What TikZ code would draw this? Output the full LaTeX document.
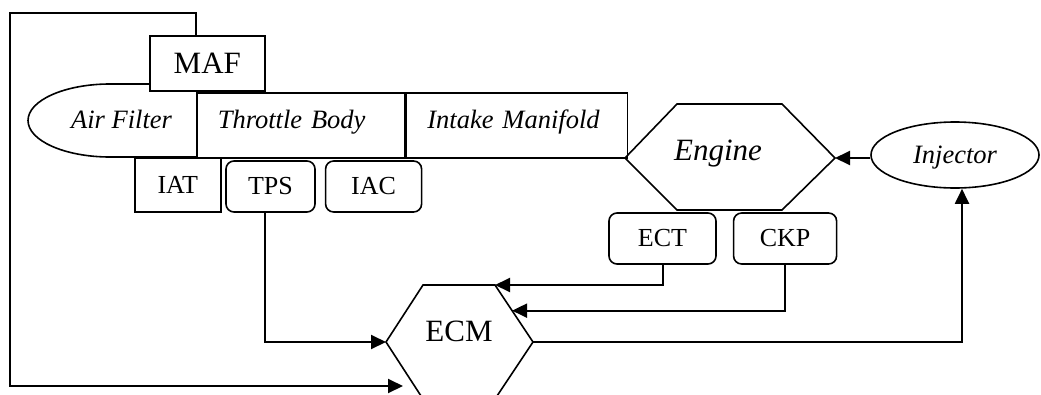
\documentclass[tikz,border=0pt]{standalone}
\usepackage{fontspec}
\setmainfont{Liberation Serif}
\usetikzlibrary{shapes.geometric,arrows.meta,positioning,calc}

\begin{document}
\begin{tikzpicture}[x=1pt, y=-1pt, line width=1.6pt,
    pipe/.style={rectangle, draw, fill=white,
                 inner xsep=21pt, inner ysep=0pt,
                 text height=36pt, text depth=29pt, align=left,
                 font=\itshape\fontsize{26.5}{30}\selectfont},
    sensor/.style={rectangle, draw, fill=white, inner sep=0pt,
                   minimum height=51pt,
                   font=\fontsize{26}{30}\selectfont},
    rsensor/.style={sensor, rounded corners=8pt},
    big/.style={font=\fontsize{31}{36}\selectfont},
    bigit/.style={font=\itshape\fontsize{31}{36}\selectfont},
    arr/.style={-{Triangle[length=15pt,width=14pt]}, line width=2pt},
  ]
    \clip (0,0) rectangle (1041,394);

    % air filter (half oval)
    \draw (196,84) -- (110,84)
          arc[start angle=90, end angle=270, x radius=82pt, y radius=36.5pt]
          -- (196,157);
    \node[anchor=base west, font=\itshape\fontsize{26.5}{30}\selectfont]
          (filter) at (67,128) {Air Filter};

    \node[pipe, text width=166pt, anchor=north west] (tb) at (196,92) {Throttle Body};
    \node[pipe, text width=179pt, right=0pt of tb] (im) {Intake Manifold};
    \node[sensor, big, minimum width=115pt, minimum height=55pt,
          anchor=south west] (maf) at (149,92) {MAF};

    \node[sensor, minimum width=86pt, minimum height=54pt,
          anchor=north west] (iat) at (134,157) {IAT};
    \node[rsensor, minimum width=89pt] (tps) at (270.5,186.5) {TPS};
    \node[rsensor, minimum width=96pt, right=9pt of tps] (iac) {IAC};

    % engine
    \coordinate (engW)  at (625,158);
    \coordinate (engNW) at (677,104);
    \coordinate (engNE) at (782,104);
    \coordinate (engE)  at (835,158);
    \coordinate (engSE) at (782,210);
    \coordinate (engSW) at (677,210);
    \draw (engW) -- (engNW) -- (engNE) -- (engE) -- (engSE) -- (engSW) -- cycle;
    \node[bigit, anchor=base] (eng) at (718,160) {Engine};

    \node[rsensor, minimum width=107pt] (ect) at (662.5,238.5) {ECT};
    \node[rsensor, minimum width=103pt, right=16pt of ect] (ckp) {CKP};

    \node[ellipse, draw, inner sep=0pt, minimum width=168pt, minimum height=66pt,
          text depth=0pt, font=\itshape\fontsize{26.5}{30}\selectfont]
          (inj) at (955,155) {Injector};

    % ECM
    \coordinate (ecmW)  at (386,342);
    \coordinate (ecmNW) at (423,285);
    \coordinate (ecmNE) at (495,285);
    \coordinate (ecmE)  at (533,342);
    \coordinate (ecmSE) at (495,399);
    \coordinate (ecmSW) at (423,399);
    \draw (ecmW) -- (ecmNW) -- (ecmNE) -- (ecmE) -- (ecmSE) -- (ecmSW) -- cycle;
    \node[big, anchor=base] (ecm) at (459,341) {ECM};
    \coordinate (ecmR) at ($(ecmNE)!0.45!(ecmE)$);

    \coordinate (fbtop) at (9.5,13);
    \coordinate (fbin)  at (403,386);

    \draw[arr] (maf.north -| tb.west) |- (fbtop) |- (fbin);
    \draw[arr] ([xshift=-6pt]tps.south) |- (ecmW);
    \draw[arr] (ect.south) |- (ecmNE);
    \draw[arr] (ckp.south) |- (ecmR);
    \draw[arr] (ecmE) -| ([xshift=7pt]inj.south);
    \draw[arr] (engE -| inj.west) -- (engE);
\end{tikzpicture}
\end{document}
